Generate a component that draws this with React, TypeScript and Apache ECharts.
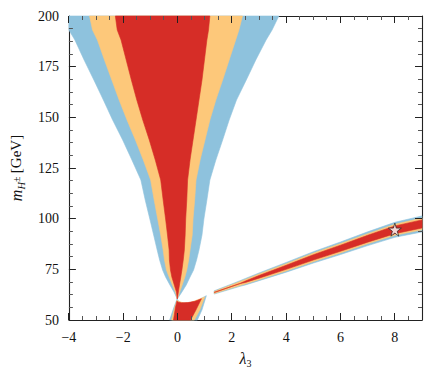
import React, { useEffect, useRef } from 'react';
import * as echarts from 'echarts';

// Funnel boundaries (lambda_3 values at given m_H± levels)
const mLevels = [60.36, 63.82, 67.27, 71.22, 74.67, 79.61, 84.54, 91.94, 99.84, 109.21, 119.08, 128.95, 138.82, 148.68, 158.55, 168.42, 178.29, 188.16, 193.09, 200];
const blueLeft = [-0.01, -0.13, -0.28, -0.44, -0.55, -0.66, -0.75, -0.88, -1.02, -1.19, -1.35, -1.68, -2.02, -2.39, -2.73, -3.08, -3.44, -3.78, -4.0, -4.0];
const orangeLeft = [-0.01, -0.08, -0.19, -0.31, -0.41, -0.48, -0.53, -0.62, -0.73, -0.86, -0.99, -1.26, -1.55, -1.86, -2.15, -2.42, -2.69, -2.95, -3.13, -3.24];
const redLeft = [-0.01, -0.04, -0.12, -0.21, -0.26, -0.3, -0.31, -0.37, -0.44, -0.53, -0.62, -0.82, -1.04, -1.28, -1.5, -1.7, -1.89, -2.08, -2.22, -2.29];
const redRight = [-0.01, 0.03, 0.07, 0.12, 0.16, 0.21, 0.25, 0.28, 0.3, 0.34, 0.37, 0.46, 0.57, 0.68, 0.79, 0.9, 0.99, 1.08, 1.14, 1.19];
const orangeRight = [-0.01, 0.08, 0.17, 0.27, 0.34, 0.41, 0.46, 0.54, 0.57, 0.63, 0.68, 0.83, 1.01, 1.19, 1.41, 1.66, 1.9, 2.14, 2.26, 2.39];
const blueRight = [-0.01, 0.16, 0.32, 0.46, 0.59, 0.7, 0.79, 0.9, 0.97, 1.08, 1.19, 1.41, 1.66, 1.9, 2.17, 2.53, 2.88, 3.26, 3.48, 3.73];

// Low-mass hook region below the funnel tip: [lambda_3, m]
const lowBlue = [[-0.02, 60.4], [-0.14, 56], [-0.29, 50], [0.73, 50], [0.9, 55], [1.06, 62], [0.78, 59.9], [0.5, 58.3], [0.25, 57.9], [0.06, 59.0]];
const lowOrange = [[-0.02, 59.8], [-0.11, 56], [-0.22, 50], [0.62, 50], [0.82, 55], [1.0, 61.4], [0.74, 60.0], [0.48, 58.7], [0.24, 58.4], [0.03, 59.2]];
const lowRed = [[-0.02, 59.4], [-0.08, 56], [-0.15, 50], [0.48, 50], [0.68, 55], [0.88, 60.5], [0.64, 59.2], [0.38, 58.6], [0.14, 58.5], [0.0, 58.9]];

// Thin band towards large lambda_3
const bandX = [1.35, 2.0, 2.3, 2.5, 3.0, 4.0, 5.0, 6.0, 7.0, 8.0, 9.0];
const bandMid = [63.6, 66.6, 68.0, 68.9, 71.3, 76.0, 80.9, 85.4, 90.1, 94.5, 97.4];
const bandBlue = [0.8, 1.2, 1.4, 1.6, 1.9, 2.4, 2.8, 3.1, 3.4, 3.7, 3.95];
const bandOrange = [0.5, 0.8, 1.0, 1.1, 1.4, 1.8, 2.1, 2.3, 2.5, 2.7, 2.9];
const bandRed = [0, 0, 0.05, 0.35, 0.65, 1.0, 1.3, 1.5, 1.7, 1.9, 2.0];

const starPoint = [8, 94.6];

// Tick positions
const xMajorTicks = [-4, -2, 0, 2, 4, 6, 8];
const xMinorTicks = [-3.5, -3, -2.5, -1.5, -1, -0.5, 0.5, 1, 1.5, 2.5, 3, 3.5, 4.5, 5, 5.5, 6.5, 7, 7.5, 8.5];
const yMajorTicks = [75, 100, 125, 150, 175];
const yMinorTicks = [56.25, 62.5, 68.75, 81.25, 87.5, 93.75, 106.25, 112.5, 118.75, 131.25, 137.5, 143.75, 156.25, 162.5, 168.75, 181.25, 187.5, 193.75];

const X_MIN = -4;
const X_MAX = 9;
const Y_MIN = 50;
const Y_MAX = 200;

const RED = '#d62d27';
const ORANGE = '#fdc87a';
const BLUE = '#8ec2dd';
const FONT = 'Liberation Serif';

function funnel(left: number[], right: number[]) {
  const pts: number[][] = [];
  for (let i = 0; i < mLevels.length; i++) pts.push([left[i], mLevels[i]]);
  for (let i = mLevels.length - 1; i >= 0; i--) pts.push([right[i], mLevels[i]]);
  return pts;
}

function band(half: number[]) {
  const pts: number[][] = [];
  for (let i = 0; i < bandX.length; i++) pts.push([bandX[i], bandMid[i] + half[i]]);
  for (let i = bandX.length - 1; i >= 0; i--) pts.push([bandX[i], bandMid[i] - half[i]]);
  return pts;
}

function poly(points: number[][], color: string) {
  return {
    type: 'custom',
    coordinateSystem: 'cartesian2d',
    xAxisIndex: 0,
    yAxisIndex: 0,
    silent: true,
    z: 2,
    data: [[0, 100]],
    renderItem: (_params: any, api: any) => ({
      type: 'polygon',
      shape: { points: points.map((p) => api.coord(p)) },
      style: { fill: color, stroke: color, lineWidth: 0.6 },
    }),
  };
}

// Ticks: each tick is a thin pixel-aligned polygon anchored on the axis through api.coord
function tickSeries(xVals: number[], yVals: number[], len: number, color: string) {
  return {
    type: 'custom',
    coordinateSystem: 'cartesian2d',
    xAxisIndex: 0,
    yAxisIndex: 0,
    silent: true,
    z: 3,
    data: [[0, 100]],
    renderItem: (_params: any, api: any) => {
      const pts: number[][][] = [];
      xVals.forEach((v) => {
        const b = api.coord([v, Y_MIN]);
        const t = api.coord([v, Y_MAX]);
        const x0 = Math.floor(b[0]);
        const x1 = x0 + 1;
        pts.push([[x0, b[1]], [x1, b[1]], [x1, b[1] - len], [x0, b[1] - len]]);
        pts.push([[x0, t[1]], [x1, t[1]], [x1, t[1] + len], [x0, t[1] + len]]);
      });
      yVals.forEach((v) => {
        const l = api.coord([X_MIN, v]);
        const r = api.coord([X_MAX, v]);
        const y0 = Math.floor(l[1]);
        const y1 = y0 + 1;
        pts.push([[l[0], y0], [l[0] + len, y0], [l[0] + len, y1], [l[0], y1]]);
        pts.push([[r[0], y0], [r[0] - len, y0], [r[0] - len, y1], [r[0], y1]]);
      });
      return {
        type: 'group',
        children: pts.map((p) => ({ type: 'polygon', shape: { points: p }, style: { fill: color } })),
      };
    },
  };
}

const STAR = 'path://M50,0 L61,35 L98,35 L68,57 L79,91 L50,70 L21,91 L32,57 L2,35 L39,35 Z';

export default function App() {
  const ref = useRef<HTMLDivElement>(null);
  useEffect(() => {
    if (!ref.current) return;
    const chart = echarts.init(ref.current, undefined, { renderer: 'svg' });
    const lineStyle = { color: '#222', width: 1.1 };
    const labelStyle = {
      fontFamily: FONT,
      fontSize: 14,
      color: '#111',
    };
    const fmt = (v: number) => String(v).replace('-', '\u2212');
    chart.setOption({
      animation: false,
      backgroundColor: '#fff',
      grid: { left: 64, right: 10, top: 16, bottom: 58, containLabel: false },
      xAxis: [
        {
          type: 'value',
          position: 'bottom',
          min: X_MIN,
          max: X_MAX,
          interval: 2,
          splitLine: { show: false },
          axisLine: { show: true, onZero: false, lineStyle },
          axisTick: { show: false },
          axisLabel: { show: true, showMaxLabel: false, margin: 10, formatter: fmt, ...labelStyle },
          name: '{l|\u03bb}{s|3}',
          nameLocation: 'middle',
          nameGap: 28,
          nameTextStyle: {
            rich: {
              l: { fontFamily: FONT, fontSize: 16, fontStyle: 'italic', color: '#111', lineHeight: 20, verticalAlign: 'middle' },
              s: { fontFamily: FONT, fontSize: 10, color: '#111', lineHeight: 20, verticalAlign: 'bottom' },
            },
          },
        },
        {
          type: 'value',
          position: 'top',
          min: X_MIN,
          max: X_MAX,
          interval: 2,
          splitLine: { show: false },
          axisLine: { show: true, onZero: false, lineStyle },
          axisTick: { show: false },
          axisLabel: { show: false },
        },
      ],
      yAxis: [
        {
          type: 'value',
          position: 'left',
          min: Y_MIN,
          max: Y_MAX,
          interval: 25,
          splitLine: { show: false },
          axisLine: { show: true, onZero: false, lineStyle },
          axisTick: { show: false },
          axisLabel: { show: true, margin: 10, ...labelStyle },
          name: '{m|m}{h|H}{p|\u00b1} {g|[GeV]}',
          nameLocation: 'middle',
          nameRotate: 90,
          nameGap: 32,
          nameTextStyle: {
            rich: {
              m: { fontFamily: FONT, fontSize: 16, fontStyle: 'italic', color: '#111', lineHeight: 22, verticalAlign: 'middle' },
              h: { fontFamily: FONT, fontSize: 10.5, fontStyle: 'italic', color: '#111', lineHeight: 22, verticalAlign: 'bottom' },
              p: { fontFamily: FONT, fontSize: 10, color: '#111', lineHeight: 22, verticalAlign: 'middle' },
              g: { fontFamily: FONT, fontSize: 15, color: '#111', lineHeight: 22, verticalAlign: 'middle' },
            },
          },
        },
        {
          type: 'value',
          position: 'right',
          min: Y_MIN,
          max: Y_MAX,
          interval: 25,
          splitLine: { show: false },
          axisLine: { show: true, onZero: false, lineStyle },
          axisTick: { show: false },
          axisLabel: { show: false },
        },
      ],
      series: [
        poly(funnel(blueLeft, blueRight), BLUE),
        poly(funnel(orangeLeft, orangeRight), ORANGE),
        poly(funnel(redLeft, redRight), RED),
        poly(lowBlue, BLUE),
        poly(lowOrange, ORANGE),
        poly(lowRed, RED),
        poly(band(bandBlue), BLUE),
        poly(band(bandOrange), ORANGE),
        poly(band(bandRed), RED),
        tickSeries(xMinorTicks, yMinorTicks, 4, '#555'),
        tickSeries(xMajorTicks, yMajorTicks, 7, '#222'),
        {
          type: 'scatter',
          xAxisIndex: 0,
          yAxisIndex: 0,
          z: 7,
          silent: true,
          symbol: STAR,
          symbolSize: 13,
          itemStyle: { color: '#fff', borderColor: '#222', borderWidth: 0.9 },
          data: [starPoint],
        },
      ],
    });
    return () => chart.dispose();
  }, []);
  return (
    <div
      ref={ref}
      style={{ position: 'fixed', left: 0, top: 0, width: 432, height: 378, background: '#fff' }}
    />
  );
}
